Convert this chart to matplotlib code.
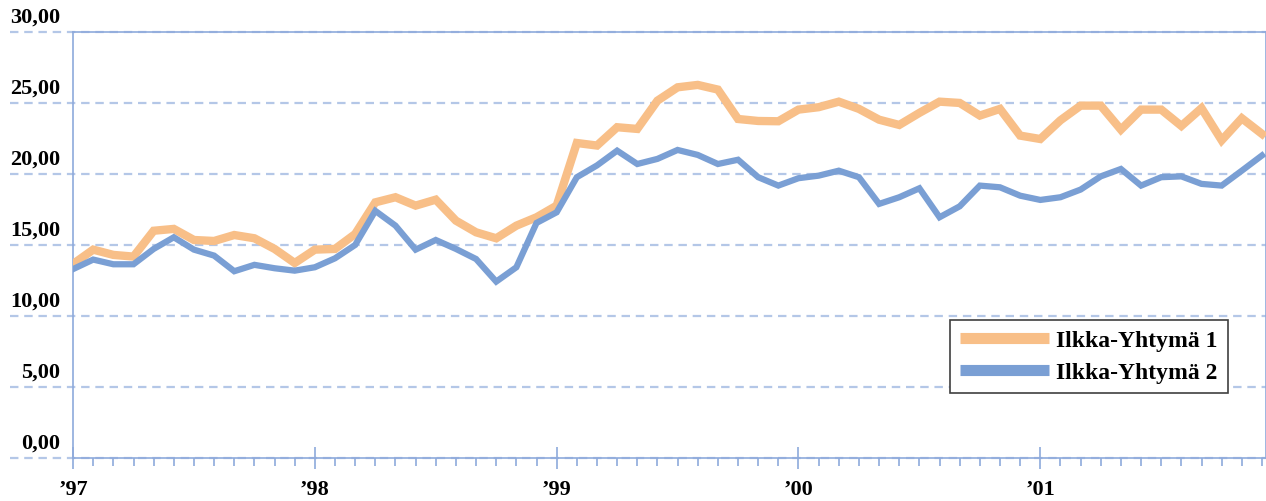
import numpy as np
import matplotlib
matplotlib.use("Agg")
import matplotlib.pyplot as plt
from matplotlib.ticker import FixedLocator, MultipleLocator
from matplotlib.transforms import ScaledTranslation, blended_transform_factory

# monthly values, Jan 1997 .. Dec 2001
ilkka_1 = [13.66, 14.67, 14.30, 14.18, 16.00, 16.13, 15.35, 15.28, 15.70, 15.47,
           14.72, 13.73, 14.67, 14.72, 15.77, 18.00, 18.36, 17.77, 18.19, 16.71,
           15.89, 15.47, 16.36, 16.95, 17.77, 22.18, 22.00, 23.29, 23.17, 25.16,
           26.10, 26.27, 25.94, 23.87, 23.73, 23.71, 24.53, 24.70, 25.09, 24.58,
           23.82, 23.45, 24.30, 25.09, 25.00, 24.11, 24.58, 22.70, 22.46, 23.78,
           24.81, 24.81, 23.12, 24.53, 24.53, 23.38, 24.63, 22.37, 23.92, 22.82]
ilkka_2 = [13.30, 13.97, 13.64, 13.64, 14.72, 15.54, 14.67, 14.25, 13.15, 13.60,
           13.36, 13.19, 13.43, 14.06, 15.00, 17.40, 16.36, 14.67, 15.35, 14.72,
           14.01, 12.42, 13.43, 16.55, 17.30, 19.77, 20.60, 21.64, 20.70, 21.06,
           21.69, 21.34, 20.70, 21.00, 19.77, 19.18, 19.70, 19.88, 20.23, 19.77,
           17.89, 18.36, 18.99, 16.95, 17.72, 19.18, 19.06, 18.47, 18.17, 18.36,
           18.90, 19.83, 20.35, 19.18, 19.77, 19.83, 19.30, 19.18, 20.23, 21.30]
labels = ["Ilkka-Yhtymä 1", "Ilkka-Yhtymä 2"]
year_ticks = [0, 12, 24, 36, 48]
year_labels = ["\u201997", "\u201998", "\u201999", "\u201900", "\u201901"]
y_ticks = [0, 5, 10, 15, 20, 25, 30]
y_labels = ["0,00", "5,00", "10,00", "15,00", "20,00", "25,00", "30,00"]

plt.rcParams["font.family"] = "Liberation Serif"
plt.rcParams["font.weight"] = "bold"

axis_col = "#8eaadb"
grid_col = "#b4c7e7"

fig = plt.figure(figsize=(12.66, 5.02), dpi=100)
ax = fig.add_axes([0.0577, 0.0857, 0.9423, 0.8487])

x = np.arange(len(ilkka_1))
ax.plot(x, ilkka_1, color="#f8bf88", lw=6, label=labels[0], solid_joinstyle="miter", zorder=3)
ax.plot(x, ilkka_2, color="#7a9fd4", lw=4.5, label=labels[1], solid_joinstyle="miter", zorder=4)

ax.set_xlim(0, 59.2)
ax.set_ylim(0, 30)

# dashed grid, extending into the label area
for v in y_ticks:
    ax.axhline(v, xmin=-0.053, xmax=1, color=grid_col, lw=1.6, ls=(0, (3.8, 2.6)),
               clip_on=False, zorder=1)

ax.yaxis.set_major_locator(FixedLocator(y_ticks))
ax.set_yticklabels([])
ax.tick_params(axis="y", length=0)
trans = blended_transform_factory(ax.transAxes, ax.transData)
off = ScaledTranslation(0, 4 / 72, fig.dpi_scale_trans)
for v, s in zip(y_ticks, y_labels):
    ax.text(-0.011, v, s, transform=trans + off, ha="right", va="bottom",
            fontsize=16, fontweight="bold")

ax.xaxis.set_major_locator(FixedLocator(year_ticks))
ax.xaxis.set_minor_locator(MultipleLocator(1))
ax.set_xticklabels(year_labels, fontsize=16, fontweight="bold")
ax.tick_params(axis="x", which="major", direction="inout", length=16, width=1.2,
               color=axis_col, pad=7)
ax.tick_params(axis="x", which="minor", direction="out", length=6, width=1.2,
               color=axis_col)

for sp in ax.spines.values():
    sp.set_color(axis_col)
    sp.set_linewidth(1.2)

leg = ax.legend(loc="lower right", bbox_to_anchor=(0.968, 0.153), borderaxespad=0,
                fancybox=False, edgecolor="#404040", framealpha=1,
                prop={"family": "Liberation Serif", "weight": "bold", "size": 17},
                handlelength=3.8, handletextpad=0.3, labelspacing=0.42, borderpad=0.42)
leg.get_frame().set_linewidth(1.2)
for h in leg.get_lines():
    h.set_linewidth(8)
    h.set_solid_capstyle("butt")

fig.savefig("out.png", dpi=100)
